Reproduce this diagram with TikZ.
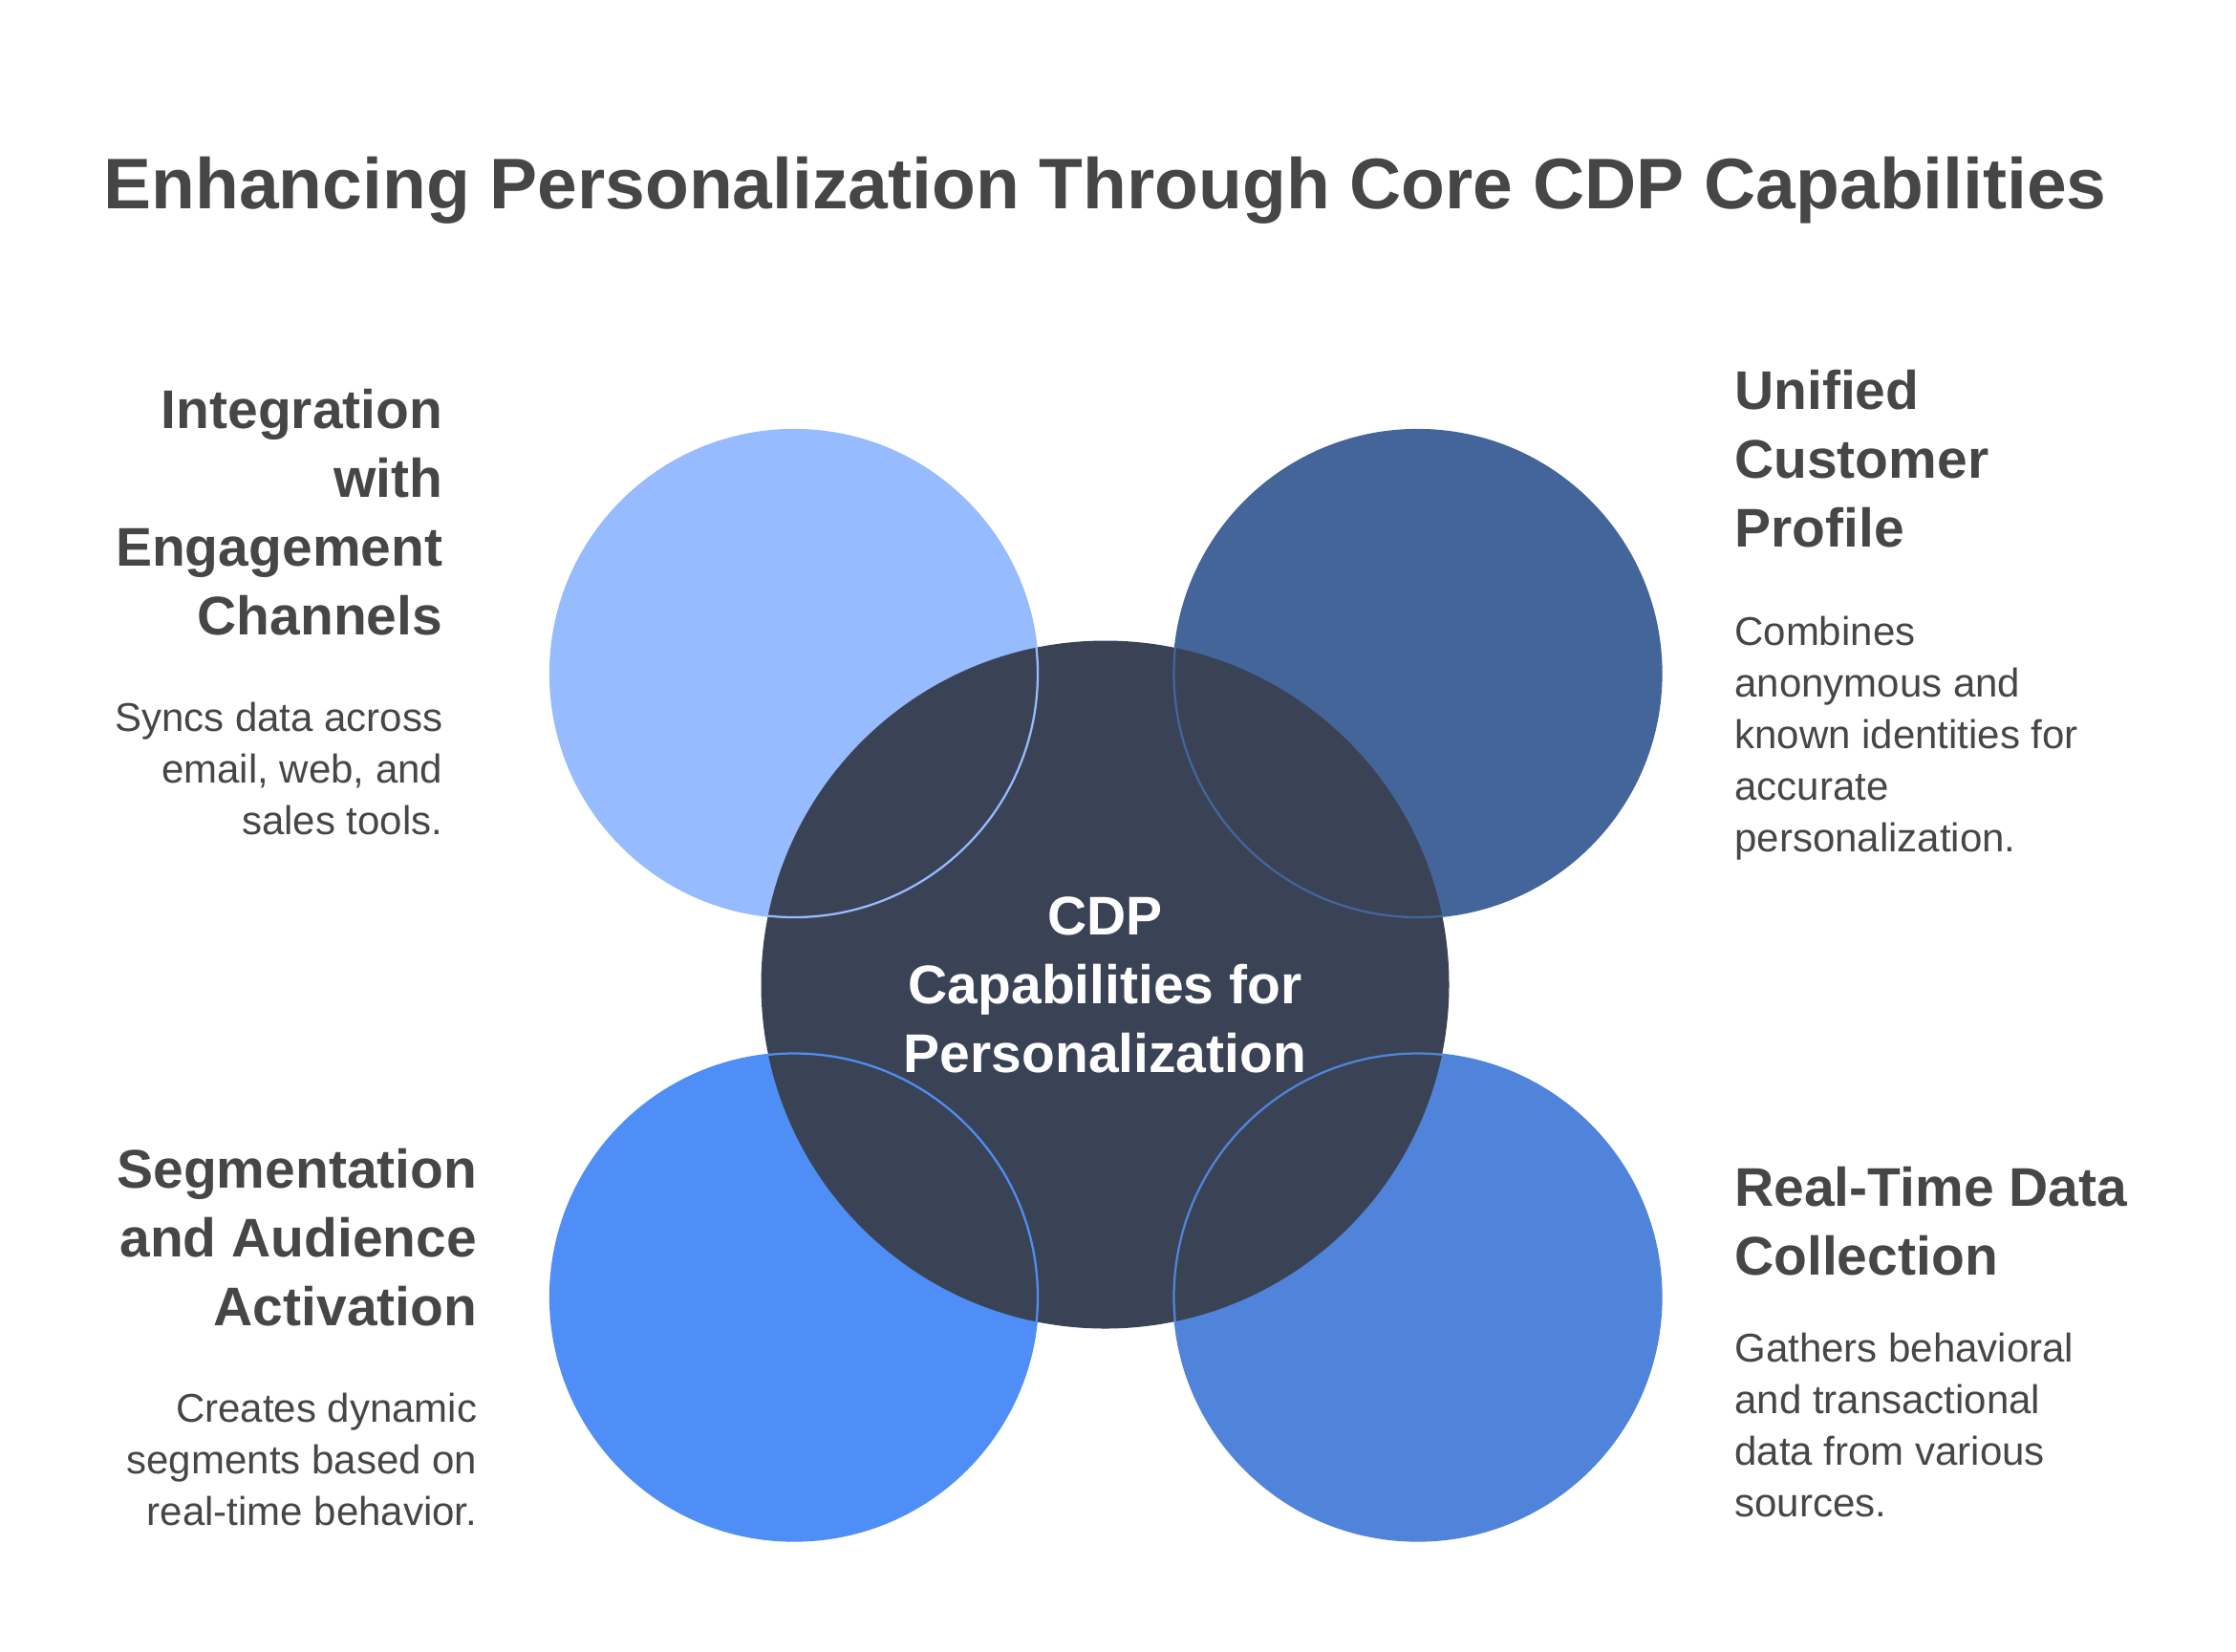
\documentclass[tikz,border=0pt]{standalone}
\usepackage{fontspec}
\setmainfont{Liberation Sans}
\definecolor{ink}{HTML}{464646}
\definecolor{lightblue}{HTML}{96BBFE}
\definecolor{navyblue}{HTML}{44659A}
\definecolor{brightblue}{HTML}{4F8EF7}
\definecolor{midblue}{HTML}{5084DB}
\definecolor{slate}{HTML}{3A4355}
\tikzset{
  heading/.style={font=\fontsize{38}{48}\selectfont\bfseries, text=ink, inner sep=0pt},
  body/.style={font=\fontsize{28}{36}\selectfont, text=ink, inner sep=0pt},
}
\begin{document}
\begin{tikzpicture}[x=1pt, y=-1pt]
    \useasboundingbox (0,0) rectangle (1560,1152);

    % Title
    \node[font=\fontsize{50}{60}\selectfont\bfseries, text=ink] (title) at (771,133) {Enhancing Personalization Through Core CDP Capabilities};

    % Outer circles (fills)
    \fill[lightblue] (554,470) circle (170);
    \fill[navyblue] (989,470) circle (170);
    \fill[brightblue] (554,905) circle (170);
    \fill[midblue] (989,905) circle (170);

    % Centre circle
    \fill[slate] (771,687) circle (240);
    \node[font=\fontsize{38}{48}\selectfont\bfseries, text=white, align=center] (core) at (771,687) {CDP\\Capabilities for\\Personalization};

    % Outer circles (outlines over the centre)
    \draw[lightblue, line width=1.5pt] (554,470) circle (170);
    \draw[navyblue, line width=1.5pt] (989,470) circle (170);
    \draw[brightblue, line width=1.5pt] (554,905) circle (170);
    \draw[midblue, line width=1.5pt] (989,905) circle (170);

    % Integration with Engagement Channels
    \node[heading, align=right, anchor=north east] (intH) at (309,271) {Integration\\with\\Engagement\\Channels};
    \node[body, align=right, anchor=north east] (intB) at (309,490) {Syncs data across\\email, web, and\\sales tools.};

    % Unified Customer Profile
    \node[heading, align=left, anchor=north west] (uniH) at (1210,258) {Unified\\Customer\\Profile};
    \node[body, align=left, anchor=north west] (uniB) at (1210,430) {Combines\\anonymous and\\known identities for\\accurate\\personalization.};

    % Segmentation and Audience Activation
    \node[heading, align=right, anchor=north east] (segH) at (333,801) {Segmentation\\and Audience\\Activation};
    \node[body, align=right, anchor=north east] (segB) at (333,972) {Creates dynamic\\segments based on\\real-time behavior.};

    % Real-Time Data Collection
    \node[heading, align=left, anchor=north west] (rtH) at (1210,814) {Real-Time Data\\Collection};
    \node[body, align=left, anchor=north west] (rtB) at (1210,930) {Gathers behavioral\\and transactional\\data from various\\sources.};
\end{tikzpicture}
\end{document}
